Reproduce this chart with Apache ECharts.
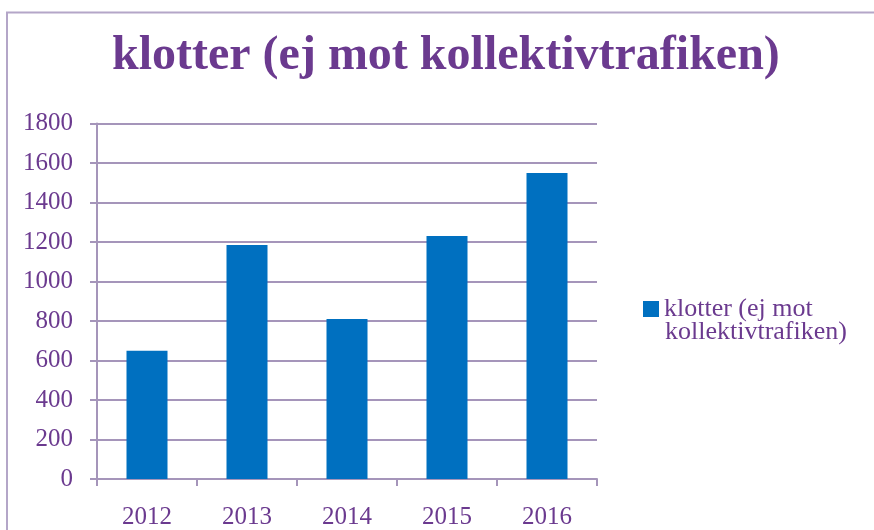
<!DOCTYPE html>
<html>
<head>
<meta charset="utf-8">
<script src="https://cdn.jsdelivr.net/npm/echarts@6/dist/echarts.min.js"></script>
<style>
  html, body { margin: 0; padding: 0; background: #fff; }
</style>
</head>
<body>
<div id="main" style="width: 874px;height:530px;"></div>
<script type="text/javascript">
    // data
    var years = ['2012', '2013', '2014', '2015', '2016'];
    var klotter = [650, 1185, 810, 1230, 1550];
    var seriesName = 'klotter (ej mot kollektivtrafiken)';

    var purple = '#6B3A8F';
    var gridColor = '#A595BA';
    var serif = '"Liberation Serif", "Times New Roman", serif';

    var myChart = echarts.init(document.getElementById('main'));
    var option = {
        animation: false,
        title: {
            text: 'klotter (ej mot kollektivtrafiken)',
            left: 107,
            top: 28,
            textStyle: {
                fontFamily: serif,
                fontSize: 48,
                fontWeight: 'bold',
                color: purple
            }
        },
        legend: {
            left: 638,
            top: 291,
            itemWidth: 16,
            itemHeight: 16,
            icon: 'rect',
            formatter: function () { return 'klotter (ej mot'; },
            textStyle: { fontFamily: serif, fontSize: 26, color: purple },
            data: [seriesName]
        },
        graphic: [
            {
                // outer frame
                type: 'polyline',
                shape: { points: [[7, 530], [7, 12.5], [874, 12.5]] },
                style: { stroke: '#B4A6C8', lineWidth: 2, fill: null }
            },
            {
                // second line of the legend label
                type: 'text',
                left: 665,
                top: 319,
                style: { text: 'kollektivtrafiken)', font: '26px ' + serif, fill: purple }
            }
        ],
        grid: {
            left: 97,
            right: 277,
            top: 123.5,
            bottom: 51,
            outerBoundsMode: 'none'
        },
        xAxis: {
            type: 'category',
            data: years,
            axisLine: { lineStyle: { color: gridColor, width: 2 } },
            axisTick: { show: true, length: 7, lineStyle: { color: gridColor, width: 2 } },
            axisLabel: { fontFamily: serif, fontSize: 25, color: purple, margin: 26 }
        },
        yAxis: {
            type: 'value',
            min: 0,
            max: 1800,
            interval: 200,
            axisLine: { show: true, lineStyle: { color: gridColor, width: 2 } },
            axisTick: { show: true, length: 7, lineStyle: { color: gridColor, width: 2 } },
            splitLine: { lineStyle: { color: gridColor, width: 2 } },
            axisLabel: {
                fontFamily: serif, fontSize: 25, color: purple, margin: 24,
                formatter: function (v) { return String(v); }
            }
        },
        series: [
            {
                name: seriesName,
                type: 'bar',
                barWidth: 41,
                itemStyle: { color: '#0070C0' },
                data: klotter
            }
        ]
    };
    myChart.setOption(option);
</script>
</body>
</html>
